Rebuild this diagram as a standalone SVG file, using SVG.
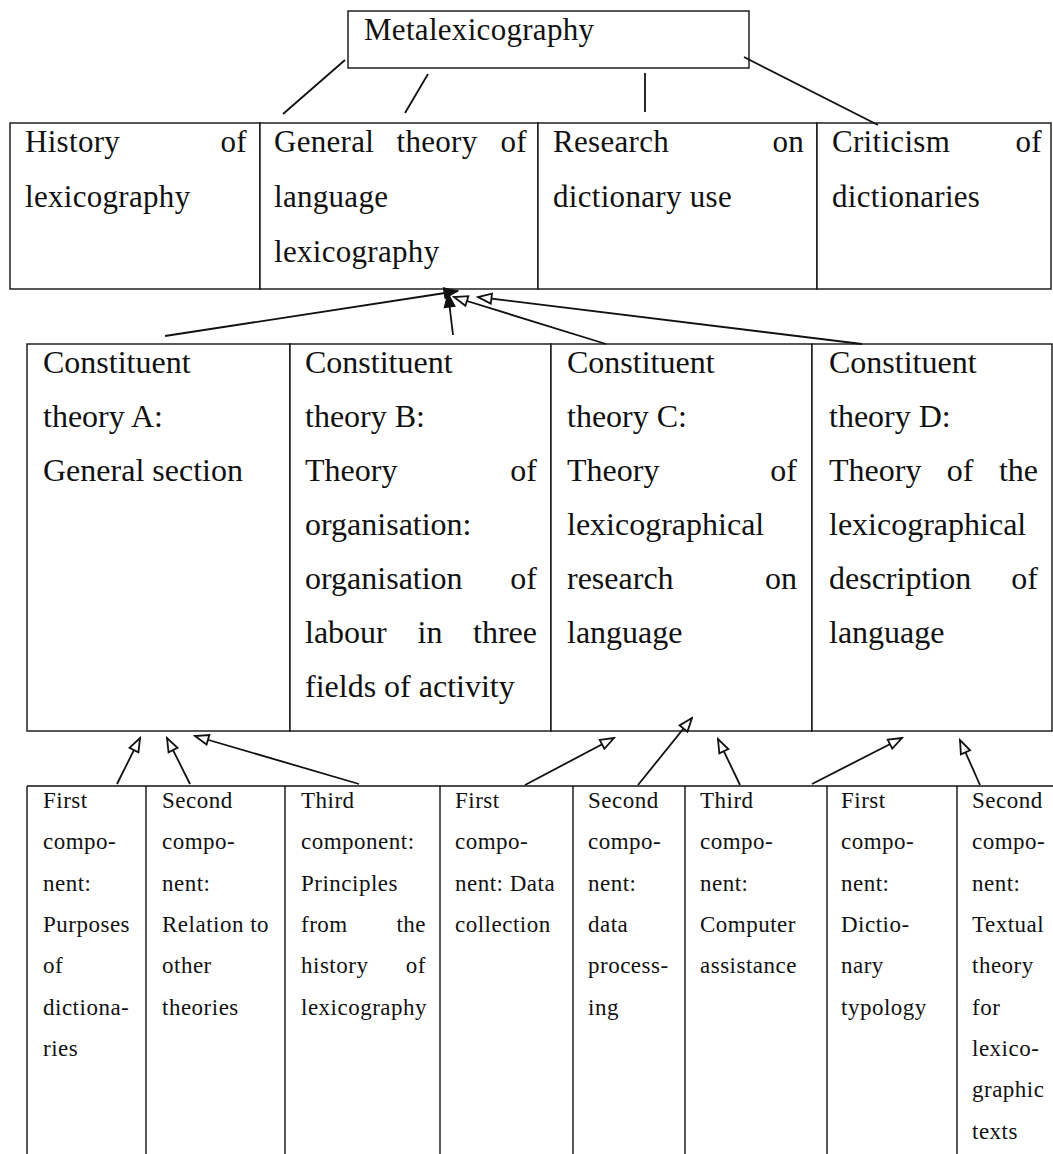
<svg xmlns="http://www.w3.org/2000/svg" width="1053" height="1154" viewBox="0 0 1053 1154">
  <style>
    .box { fill: #fff; stroke: #111; stroke-width: 1.4; }
    .rule { stroke: #111; stroke-width: 1.4; fill: none; }
    .link { stroke: #111; stroke-width: 1.8; fill: none; }
    .t2 { font-family: "Liberation Serif", "Times New Roman", serif; font-size: 31px; letter-spacing: 0.3px; fill: #111; }
    .t3 { font-family: "Liberation Serif", "Times New Roman", serif; font-size: 32px; fill: #111; }
    .t4 { font-family: "Liberation Serif", "Times New Roman", serif; font-size: 23px; letter-spacing: 0.5px; fill: #111; }
    .end { text-anchor: end; }
    .mid { text-anchor: middle; }
  </style>
  <defs>
    <marker id="solid" markerUnits="userSpaceOnUse" markerWidth="17" markerHeight="13" refX="15" refY="6.5" orient="auto">
      <path d="M1,1 L15,6.5 L1,12 z" fill="#111" stroke="#111" stroke-width="1"/>
    </marker>
    <marker id="hollow" markerUnits="userSpaceOnUse" markerWidth="17" markerHeight="13" refX="15" refY="6.5" orient="auto">
      <path d="M1.5,1.5 L15,6.5 L1.5,11.5 z" fill="#fff" stroke="#111" stroke-width="1.8"/>
    </marker>
  </defs>

  <rect width="1053" height="1154" fill="#fff"/>

  <!-- root -->
  <g id="metalexicography">
    <rect class="box" x="348" y="11" width="401" height="57"/>
    <text class="t2" x="364" y="40">Metalexicography</text>
  </g>

  <!-- second level -->
  <g id="history">
    <rect class="box" x="10" y="123" width="250" height="166"/>
    <text class="t2" x="25" y="152">History</text>
    <text class="t2 end" x="247" y="152">of</text>
    <text class="t2" x="25" y="207">lexicography</text>
  </g>
  <g id="general-theory">
    <rect class="box" x="260" y="123" width="278" height="166"/>
    <text class="t2" x="274" y="152">General</text>
    <text class="t2 mid" x="437" y="152">theory</text>
    <text class="t2 end" x="527" y="152">of</text>
    <text class="t2" x="274" y="207">language</text>
    <text class="t2" x="274" y="262">lexicography</text>
  </g>
  <g id="research">
    <rect class="box" x="538" y="123" width="279" height="166"/>
    <text class="t2" x="553" y="152">Research</text>
    <text class="t2 end" x="804" y="152">on</text>
    <text class="t2" x="553" y="207">dictionary use</text>
  </g>
  <g id="criticism">
    <rect class="box" x="817" y="123" width="234" height="166"/>
    <text class="t2" x="832" y="152">Criticism</text>
    <text class="t2 end" x="1042" y="152">of</text>
    <text class="t2" x="832" y="207">dictionaries</text>
  </g>

  <!-- constituent theories -->
  <g id="theory-a">
    <rect class="box" x="27" y="344" width="263" height="387"/>
    <text class="t3" x="43" y="373">Constituent</text>
    <text class="t3" x="43" y="427">theory A:</text>
    <text class="t3" x="43" y="481">General section</text>
  </g>
  <g id="theory-b">
    <rect class="box" x="290" y="344" width="261" height="387"/>
    <text class="t3" x="305" y="373">Constituent</text>
    <text class="t3" x="305" y="427">theory B:</text>
    <text class="t3" x="305" y="481">Theory</text>
    <text class="t3 end" x="537" y="481">of</text>
    <text class="t3" x="305" y="535">organisation:</text>
    <text class="t3" x="305" y="589">organisation</text>
    <text class="t3 end" x="537" y="589">of</text>
    <text class="t3" x="305" y="643">labour</text>
    <text class="t3 mid" x="430" y="643">in</text>
    <text class="t3 end" x="537" y="643">three</text>
    <text class="t3" x="305" y="697">fields of activity</text>
  </g>
  <g id="theory-c">
    <rect class="box" x="551" y="344" width="261" height="387"/>
    <text class="t3" x="567" y="373">Constituent</text>
    <text class="t3" x="567" y="427">theory C:</text>
    <text class="t3" x="567" y="481">Theory</text>
    <text class="t3 end" x="797" y="481">of</text>
    <text class="t3" x="567" y="535">lexicographical</text>
    <text class="t3" x="567" y="589">research</text>
    <text class="t3 end" x="797" y="589">on</text>
    <text class="t3" x="567" y="643">language</text>
  </g>
  <g id="theory-d">
    <rect class="box" x="812" y="344" width="240" height="387"/>
    <text class="t3" x="829" y="373">Constituent</text>
    <text class="t3" x="829" y="427">theory D:</text>
    <text class="t3" x="829" y="481">Theory</text>
    <text class="t3 mid" x="960" y="481">of</text>
    <text class="t3 end" x="1038" y="481">the</text>
    <text class="t3" x="829" y="535">lexicographical</text>
    <text class="t3" x="829" y="589">description</text>
    <text class="t3 end" x="1038" y="589">of</text>
    <text class="t3" x="829" y="643">language</text>
  </g>

  <!-- components: open-ended table at the foot -->
  <g id="components-frame">
    <line class="rule" x1="27" y1="786" x2="1053" y2="786"/>
    <line class="rule" x1="27" y1="786" x2="27" y2="1154"/>
    <line class="rule" x1="146" y1="786" x2="146" y2="1154"/>
    <line class="rule" x1="285" y1="786" x2="285" y2="1154"/>
    <line class="rule" x1="440" y1="786" x2="440" y2="1154"/>
    <line class="rule" x1="573" y1="786" x2="573" y2="1154"/>
    <line class="rule" x1="685" y1="786" x2="685" y2="1154"/>
    <line class="rule" x1="827" y1="786" x2="827" y2="1154"/>
    <line class="rule" x1="957" y1="786" x2="957" y2="1154"/>
  </g>
  <g id="a-first">
    <text class="t4" x="43" y="808">First</text>
    <text class="t4" x="43" y="849">compo-</text>
    <text class="t4" x="43" y="891">nent:</text>
    <text class="t4" x="43" y="932">Purposes</text>
    <text class="t4" x="43" y="973">of</text>
    <text class="t4" x="43" y="1015">dictiona-</text>
    <text class="t4" x="43" y="1056">ries</text>
  </g>
  <g id="a-second">
    <text class="t4" x="162" y="808">Second</text>
    <text class="t4" x="162" y="849">compo-</text>
    <text class="t4" x="162" y="891">nent:</text>
    <text class="t4" x="162" y="932">Relation to</text>
    <text class="t4" x="162" y="973">other</text>
    <text class="t4" x="162" y="1015">theories</text>
  </g>
  <g id="a-third">
    <text class="t4" x="301" y="808">Third</text>
    <text class="t4" x="301" y="849">component:</text>
    <text class="t4" x="301" y="891">Principles</text>
    <text class="t4" x="301" y="932">from</text>
    <text class="t4 end" x="426" y="932">the</text>
    <text class="t4" x="301" y="973">history</text>
    <text class="t4 end" x="426" y="973">of</text>
    <text class="t4" x="301" y="1015">lexicography</text>
  </g>
  <g id="c-first">
    <text class="t4" x="455" y="808">First</text>
    <text class="t4" x="455" y="849">compo-</text>
    <text class="t4" x="455" y="891">nent: Data</text>
    <text class="t4" x="455" y="932">collection</text>
  </g>
  <g id="c-second">
    <text class="t4" x="588" y="808">Second</text>
    <text class="t4" x="588" y="849">compo-</text>
    <text class="t4" x="588" y="891">nent:</text>
    <text class="t4" x="588" y="932">data</text>
    <text class="t4" x="588" y="973">process-</text>
    <text class="t4" x="588" y="1015">ing</text>
  </g>
  <g id="c-third">
    <text class="t4" x="700" y="808">Third</text>
    <text class="t4" x="700" y="849">compo-</text>
    <text class="t4" x="700" y="891">nent:</text>
    <text class="t4" x="700" y="932">Computer</text>
    <text class="t4" x="700" y="973">assistance</text>
  </g>
  <g id="d-first">
    <text class="t4" x="841" y="808">First</text>
    <text class="t4" x="841" y="849">compo-</text>
    <text class="t4" x="841" y="891">nent:</text>
    <text class="t4" x="841" y="932">Dictio-</text>
    <text class="t4" x="841" y="973">nary</text>
    <text class="t4" x="841" y="1015">typology</text>
  </g>
  <g id="d-second">
    <text class="t4" x="972" y="808">Second</text>
    <text class="t4" x="972" y="849">compo-</text>
    <text class="t4" x="972" y="891">nent:</text>
    <text class="t4" x="972" y="932">Textual</text>
    <text class="t4" x="972" y="973">theory</text>
    <text class="t4" x="972" y="1015">for</text>
    <text class="t4" x="972" y="1056">lexico-</text>
    <text class="t4" x="972" y="1097">graphic</text>
    <text class="t4" x="972" y="1139">texts</text>
  </g>

  <!-- connectors, drawn over the boxes -->
  <g id="connectors">
    <line class="link" x1="345" y1="60" x2="283" y2="114"/>
    <line class="link" x1="428" y1="74" x2="405" y2="113"/>
    <line class="link" x1="645" y1="73" x2="645" y2="112"/>
    <line class="link" x1="744" y1="57" x2="878" y2="125"/>

    <line class="link" x1="165" y1="336" x2="458" y2="291" marker-end="url(#solid)"/>
    <line class="link" x1="453" y1="335" x2="448" y2="293" marker-end="url(#solid)"/>
    <line class="link" x1="606" y1="344" x2="454" y2="297" marker-end="url(#hollow)"/>
    <line class="link" x1="862" y1="344" x2="478" y2="297" marker-end="url(#hollow)"/>

    <line class="link" x1="117" y1="784" x2="140" y2="738" marker-end="url(#hollow)"/>
    <line class="link" x1="190" y1="784" x2="167" y2="738" marker-end="url(#hollow)"/>
    <line class="link" x1="359" y1="784" x2="195" y2="736" marker-end="url(#hollow)"/>
    <line class="link" x1="525" y1="785" x2="614" y2="738" marker-end="url(#hollow)"/>
    <line class="link" x1="638" y1="785" x2="692" y2="718" marker-end="url(#hollow)"/>
    <line class="link" x1="740" y1="785" x2="718" y2="739" marker-end="url(#hollow)"/>
    <line class="link" x1="812" y1="784" x2="902" y2="738" marker-end="url(#hollow)"/>
    <line class="link" x1="980" y1="785" x2="960" y2="740" marker-end="url(#hollow)"/>
  </g>
</svg>
